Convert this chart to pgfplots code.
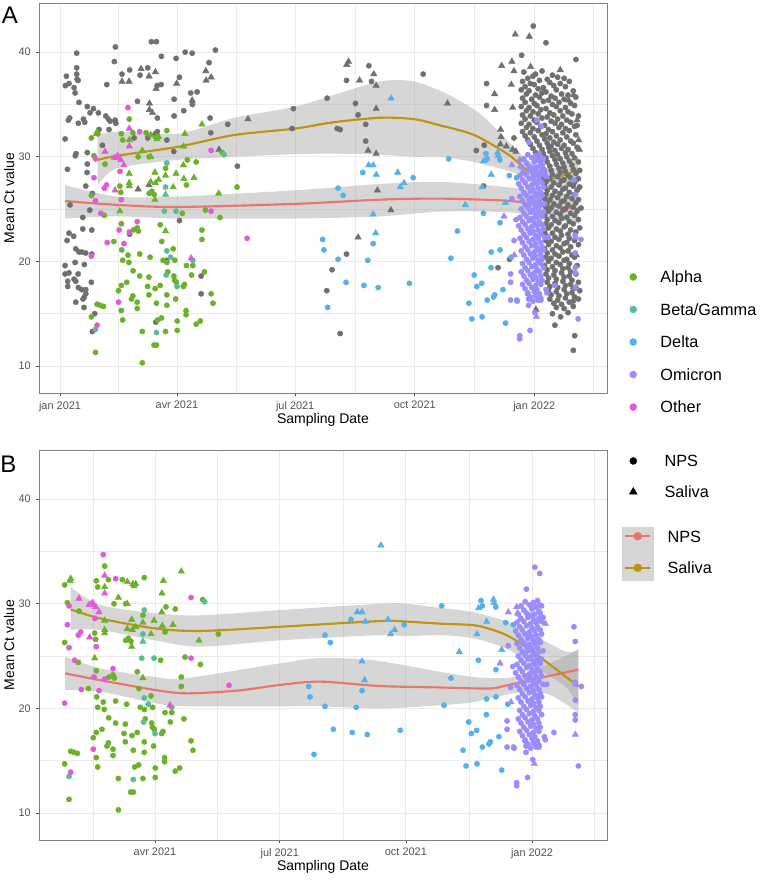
\documentclass[border=0pt]{standalone}
\usepackage{pgfplots}
\usepackage{pgfplotstable}
\usepgfplotslibrary{fillbetween}
\pgfplotsset{compat=1.18}
\usepackage{fontspec}
\setmainfont{Liberation Sans}

\definecolor{alphacol}{HTML}{6DB12A}
\definecolor{betacol}{HTML}{5CBC98}
\definecolor{deltacol}{HTML}{56B0EA}
\definecolor{omicol}{HTML}{9B8CFC}
\definecolor{othercol}{HTML}{E05CD4}
\definecolor{greycol}{HTML}{707070}
\definecolor{npscol}{HTML}{E8766C}
\definecolor{salcol}{HTML}{BE9412}
\definecolor{gridcol}{HTML}{EBEBEB}
\definecolor{bordercol}{HTML}{7F7F7F}
\definecolor{bandleg}{HTML}{D6D6D6}

% x = days since 1 Jan 2021, y = mean Ct
\pgfplotstableread{
x y
53.3 33.6
24.1 31.8
47.2 32.2
48.2 31.6
66.2 32.3
56.0 32.3
82.2 32.5
124.8 30.4
60.1 30.0
68.6 30.0
98.0 29.7
104.8 29.5
26.1 30.1
34.6 29.3
81.2 28.9
97.3 27.3
46.0 27.2
46.7 26.6
68.6 26.5
70.6 26.7
72.5 26.4
136.2 27.1
24.1 26.3
94.1 24.6
111.9 24.9
34.1 24.4
123.1 24.2
47.2 23.6
77.1 23.5
56.5 23.0
59.4 23.2
60.3 22.9
109.2 23.0
109.2 22.1
41.4 21.9
78.3 21.9
87.1 21.2
47.5 21.1
48.2 20.1
52.3 20.6
53.0 19.9
61.3 20.7
69.3 20.4
79.3 20.1
82.2 19.9
88.3 20.1
97.3 19.6
102.2 19.6
56.2 19.1
61.3 18.6
68.4 18.5
82.9 19.0
87.6 18.6
88.1 18.2
89.5 18.0
101.2 18.7
111.1 19.0
51.3 18.0
47.2 17.7
45.0 17.2
67.4 17.6
73.2 17.4
77.1 17.7
95.8 17.8
94.9 17.6
68.4 16.8
82.2 16.8
89.0 16.4
56.0 16.7
55.0 16.4
59.4 16.1
28.5 15.9
30.9 15.8
33.4 15.7
47.2 15.3
59.4 15.5
74.2 16.0
82.2 15.8
97.0 15.3
97.0 14.9
116.3 16.9
117.7 16.0
24.1 14.7
48.2 14.4
75.2 14.4
78.1 14.6
90.2 14.3
104.8 14.0
108.0 14.3
63.3 13.3
81.2 13.3
90.2 13.4
72.3 12.0
74.2 12.0
27.3 11.3
63.3 10.3
}\alphaN
\pgfplotstableread{
x y
28.5 32.4
28.0 32.2
69.8 32.1
73.9 31.9
75.9 31.9
74.7 31.7
109.2 33.1
96.1 32.2
95.1 31.0
53.3 31.6
63.3 30.6
69.8 30.0
53.3 28.4
73.0 28.5
75.9 27.8
81.2 28.2
89.3 28.4
94.9 29.2
95.3 27.9
103.1 28.0
69.8 27.6
73.5 27.5
87.1 27.1
53.3 27.5
53.3 27.2
73.0 25.9
122.1 26.5
46.0 24.8
81.2 22.9
}\alphaS
\pgfplotstableread{
x y
126.2 30.2
82.2 29.4
81.2 27.1
80.3 24.8
89.3 24.8
82.2 21.0
85.1 20.4
102.2 20.1
81.7 18.7
90.0 17.6
27.3 13.5
74.2 13.2
}\betaN
\pgfplotstableread{
x y
81.2 26.4
}\betaS
\pgfplotstableread{
x y
214.0 27.0
217.9 26.3
202.1 22.1
241.0 21.7
203.1 21.1
214.0 20.2
236.8 20.1
220.1 18.0
233.9 17.7
244.9 17.5
268.9 17.9
206.0 15.6
233.0 28.5
271.8 28.0
299.1 29.8
305.9 22.9
300.8 20.3
327.8 30.3
328.8 29.8
338.5 29.7
345.8 28.2
351.4 28.0
325.9 24.6
338.7 23.7
331.9 20.9
338.7 21.1
331.7 19.4
347.3 20.4
318.8 18.7
324.6 17.9
320.8 17.6
340.9 17.3
328.8 16.3
333.6 16.6
334.6 16.8
314.7 16.0
316.9 14.5
324.9 14.7
342.9 14.1
359.9 16.9
351.6 16.3
}\deltaN
\pgfplotstableread{
x y
254.8 35.6
237.6 29.2
241.0 29.2
243.4 28.3
259.9 28.5
264.8 27.5
261.9 27.1
241.0 24.5
242.9 22.7
312.0 25.4
326.1 29.6
336.8 30.4
337.3 30.1
331.9 28.3
324.9 27.1
342.9 25.6
370.8 26.4
}\deltaS
\pgfplotstableread{
x y
360 30.2
366 30.1
369 30.3
357 29.8
363 29.9
368 29.7
372 29.8
359 29.4
365 29.5
370 29.3
355 29.0
361 29.1
364 28.9
367 29.0
371 29.1
357 28.6
362 28.7
366 28.5
370 28.6
373 28.7
354 28.2
359 28.3
364 28.1
368 28.2
372 28.3
356 27.8
361 27.9
365 27.7
369 27.8
353 27.4
358 27.5
363 27.3
367 27.4
371 27.5
355 27.0
360 27.1
364 26.9
368 27.0
372 27.1
357 26.6
362 26.7
366 26.5
370 26.6
354 26.2
359 26.3
363 26.1
367 26.2
371 26.3
356 25.8
361 25.9
365 25.7
369 25.8
358 25.4
362 25.5
366 25.3
370 25.4
373 25.5
355 25.0
360 25.1
364 24.9
368 25.0
357 24.6
362 24.7
366 24.5
369 24.6
372 24.7
354 24.2
359 24.3
363 24.1
367 24.2
371 24.3
356 23.8
361 23.9
365 23.7
369 23.8
353 23.4
358 23.5
363 23.3
367 23.4
371 23.5
355 23.0
360 23.1
364 22.9
368 23.0
372 23.1
357 22.6
362 22.7
366 22.5
370 22.6
354 22.2
359 22.3
364 22.1
368 22.2
373 22.3
356 21.8
361 21.9
366 21.7
370 21.8
358 21.4
363 21.5
367 21.3
371 21.4
355 21.0
360 21.1
365 20.9
369 21.0
372 21.1
357 20.6
362 20.7
366 20.5
370 20.6
359 20.2
364 20.3
368 20.1
371 20.2
356 19.8
361 19.9
366 19.7
370 19.8
358 19.4
363 19.5
367 19.3
372 19.4
355 19.0
360 19.1
365 18.9
369 19.0
357 18.6
362 18.7
366 18.5
370 18.6
359 18.2
364 18.3
368 18.1
371 18.2
356 17.8
361 17.9
366 17.7
370 17.8
358 17.4
363 17.5
367 17.3
360 17.0
365 17.1
369 16.9
362 16.6
366 16.7
370 16.5
364 16.2
368 16.3
367.0 33.5
370.6 32.9
360.9 31.4
395.6 27.8
396.6 26.4
396.4 22.5
401.0 22.1
396.6 20.8
396.6 19.4
396.6 18.9
398.8 14.5
381.0 17.7
353.8 12.9
353.8 12.6
361.8 13.4
365.5 15.1
360.6 15.8
360.6 16.4
351.9 16.2
346.8 16.3
346.8 18.0
346.8 18.8
370.6 29.9
375.7 22.3
374.0 17.3
374.7 17.0
370.1 16.3
347.7 26.0
351.0 24.0
349.5 22.0
}\omiN
\pgfplotstableread{
x y
347.7 29.2
353.8 29.7
354.5 29.1
366.0 30.0
374.7 28.1
341.7 24.3
349.7 20.6
396.6 17.5
366.7 14.7
356.0 28.5
362.0 22.9
397.0 22.3
}\omiS
\pgfplotstableread{
x y
52.3 34.7
61.3 32.4
116.3 30.6
27.3 29.8
46.2 28.6
26.1 28.0
35.8 27.3
34.1 27.0
27.3 25.8
47.2 25.9
116.3 24.8
31.4 24.6
59.4 23.8
45.5 23.0
53.3 22.8
144.0 22.2
36.3 21.8
49.2 21.7
24.1 20.5
45.0 16.1
28.5 13.9
}\othN
\pgfplotstableread{
x y
53.3 32.7
53.3 31.0
34.6 30.5
41.9 29.9
44.3 30.1
45.5 29.9
46.7 29.7
49.2 29.2
42.4 26.8
100.9 20.3
}\othS
\pgfplotstableread{
x y
42.6 40.5
12.8 39.9
70.3 41.0
74.2 41.0
78.0 39.6
89.3 39.4
96.3 40.0
101.7 39.9
119.6 40.2
41.8 39.1
12.8 38.5
12.8 37.9
13.1 37.4
13.9 37.3
4.9 37.7
4.1 36.8
6.9 37.0
10.8 36.6
11.6 36.1
14.6 35.2
36.0 36.9
47.7 37.9
53.6 38.3
61.6 37.8
67.5 38.5
77.8 36.9
74.7 36.8
91.9 37.6
100.6 36.1
105.5 36.2
101.9 35.0
114.7 39.0
115.5 33.7
87.8 35.5
59.6 35.3
95.2 34.4
21.0 34.8
25.7 34.6
29.5 34.2
23.1 34.2
7.4 33.7
6.4 33.5
14.1 33.2
18.0 33.6
19.0 33.3
35.2 33.9
37.2 33.6
38.5 33.4
42.4 33.5
42.9 33.2
37.7 32.6
30.0 32.6
29.0 32.2
57.0 31.8
67.5 31.8
74.9 32.4
87.8 33.9
74.9 33.7
82.2 31.6
87.5 30.5
3.9 31.7
11.8 30.1
12.3 30.3
21.0 30.4
32.6 31.1
21.0 29.3
5.7 28.8
20.8 28.5
19.8 27.2
24.9 26.5
116.0 32.3
129.1 33.1
7.7 25.4
22.9 24.9
17.5 24.2
24.4 23.0
17.5 23.1
6.9 22.7
10.5 22.4
5.4 22.0
12.1 21.2
14.6 20.9
16.7 20.9
19.8 20.8
24.4 20.7
11.6 19.9
18.7 19.7
3.9 19.6
3.9 18.8
6.9 18.9
13.9 18.8
10.8 18.3
12.1 18.1
5.9 18.1
5.9 17.6
24.1 18.0
14.1 17.5
16.7 17.3
19.8 17.3
19.8 16.9
18.7 16.6
17.7 16.4
12.1 16.1
18.5 15.6
26.7 15.0
24.9 13.3
53.6 22.6
91.9 23.9
81.9 20.1
108.6 18.6
108.6 16.9
73.7 14.2
136.5 29.1
179.6 34.6
178.6 32.7
205.6 35.6
213.3 32.7
215.6 32.6
220.5 37.3
237.7 38.7
239.7 37.2
227.4 35.1
229.4 34.0
235.3 33.1
235.3 31.5
220.5 20.7
209.4 19.2
205.3 17.2
215.6 13.1
279.5 37.9
364.3 42.5
374.0 40.9
355.3 39.7
397.1 39.3
328.3 37.0
328.3 34.9
320.4 30.6
326.5 31.1
349.4 31.8
326.0 27.2
337.1 19.4
346.0 20.2
380.9 13.9
385.3 14.7
396.1 12.9
395.1 11.5
}\greyN
\pgfplotstableread{
x y
357 38.1
366 37.9
371 38.2
379 37.8
360 37.5
364 37.7
375 37.4
383 37.6
388 37.5
356 37.2
362 37.0
369 37.3
377 37.1
385 37.0
392 37.2
358 36.7
365 36.9
372 36.6
380 36.8
389 36.7
355 36.4
361 36.3
368 36.5
374 36.2
382 36.4
395 36.3
359 36.0
366 35.9
371 36.1
378 35.8
386 36.0
391 35.9
356 35.6
363 35.5
369 35.7
376 35.4
381 35.6
388 35.5
397 35.7
358 35.2
365 35.1
372 35.3
379 35.0
384 35.2
393 35.1
355 34.8
361 34.7
367 34.9
374 34.6
382 34.8
389 34.7
396 34.9
359 34.4
364 34.3
370 34.5
377 34.2
385 34.4
391 34.3
356 34.0
362 33.9
368 34.1
375 33.8
380 34.0
387 33.9
394 34.1
399 33.9
358 33.6
365 33.5
371 33.7
378 33.4
383 33.6
390 33.5
355 33.2
361 33.1
367 33.3
373 33.0
381 33.2
386 33.1
393 33.3
398 33.0
359 32.8
364 32.7
370 32.9
376 32.6
384 32.8
389 32.7
396 32.9
356 32.4
362 32.3
368 32.5
374 32.2
379 32.4
387 32.3
392 32.5
358 32.0
365 31.9
371 32.1
377 31.8
382 32.0
390 31.9
397 32.1
360 31.6
367 31.5
373 31.7
380 31.4
385 31.6
393 31.5
362 31.2
369 31.1
375 31.3
378 31.0
383 31.2
388 31.1
395 31.3
364 30.8
371 30.7
376 30.9
381 30.6
386 30.8
391 30.7
398 30.9
366 30.4
372 30.3
377 30.5
383 30.2
389 30.4
394 30.3
368 30.0
374 29.9
379 30.1
385 29.8
390 30.0
396 29.9
370 29.6
375 29.5
381 29.7
387 29.4
392 29.6
399 29.5
371 29.2
377 29.1
382 29.3
388 29.0
394 29.2
372 28.8
378 28.7
384 28.9
389 28.6
395 28.8
400 28.7
373 28.4
379 28.3
385 28.5
391 28.2
397 28.4
372 28.0
377 27.9
383 28.1
388 27.8
393 28.0
399 27.9
374 27.6
380 27.5
386 27.7
392 27.4
396 27.6
373 27.2
378 27.1
384 27.3
389 27.0
395 27.2
400 27.1
375 26.8
381 26.7
387 26.9
392 26.6
398 26.8
374 26.4
379 26.3
385 26.5
390 26.2
396 26.4
373 26.0
377 25.9
383 26.1
388 25.8
394 26.0
399 25.9
375 25.6
380 25.5
386 25.7
391 25.4
397 25.6
374 25.2
378 25.1
384 25.3
389 25.0
395 25.2
401 25.1
376 24.8
382 24.7
387 24.9
393 24.6
398 24.8
373 24.4
379 24.3
385 24.5
390 24.2
396 24.4
375 24.0
381 23.9
386 24.1
392 23.8
399 24.0
374 23.6
378 23.5
384 23.7
389 23.4
395 23.6
376 23.2
382 23.1
388 23.3
393 23.0
400 23.2
373 22.8
379 22.7
385 22.9
391 22.6
397 22.8
375 22.4
381 22.3
386 22.5
392 22.2
374 22.0
378 21.9
384 22.1
390 21.8
396 22.0
376 21.6
382 21.5
388 21.7
393 21.4
399 21.6
373 21.2
379 21.1
385 21.3
391 21.0
375 20.8
381 20.7
387 20.9
394 20.6
374 20.4
378 20.3
384 20.5
390 20.2
396 20.4
376 20.0
382 19.9
388 20.1
392 19.8
373 19.6
379 19.5
385 19.7
391 19.4
398 19.6
375 19.2
381 19.1
387 19.3
393 19.0
374 18.8
380 18.7
386 18.9
392 18.6
397 18.8
376 18.4
382 18.3
388 18.5
394 18.2
375 18.0
381 17.9
387 18.1
393 17.8
399 18.0
377 17.6
383 17.5
389 17.7
395 17.4
376 17.2
382 17.1
388 17.3
394 17.0
400 17.2
378 16.8
384 16.7
390 16.9
396 16.6
377 16.4
383 16.3
389 16.5
395 16.2
399 16.4
380 16.0
386 15.9
392 16.1
382 15.6
388 15.5
395 15.7
379 15.0
391 15.1
}\greyCore
\pgfplotstableread{
x y
47.7 37.2
53.1 37.2
62.4 38.4
68.5 37.7
73.4 38.1
73.9 36.5
89.8 37.0
68.8 35.1
68.8 34.5
71.1 34.2
101.7 35.4
112.2 38.2
116.3 37.6
112.4 37.3
72.4 32.1
122.4 30.7
68.5 27.3
60.1 26.9
144.7 33.6
220.7 38.8
222.0 39.1
230.5 37.3
241.5 37.9
243.3 36.8
243.3 34.6
237.1 30.6
243.3 30.3
244.3 26.8
254.6 24.9
229.4 22.3
298.2 35.1
350.4 41.7
361.2 41.5
339.9 38.7
347.8 39.1
349.4 38.2
362.2 38.6
334.5 36.0
347.3 36.9
348.4 34.7
334.5 34.5
339.1 32.6
339.4 31.9
338.9 31.2
343.5 31.0
350.9 30.5
348.4 30.7
366.3 15.4
385.0 38.3
391.5 35.4
395.3 35.9
397.9 33.5
399.2 31.6
399.7 30.7
397.4 20.6
397.9 17.4
}\greyS

\pgfplotsset{
  dot/.style={only marks, mark=*, mark size=2.0pt, color=#1, mark options={line width=0.3pt}, forget plot},
  tri/.style={only marks, mark=triangle*, mark size=2.8pt, color=#1, mark options={line width=0.3pt}, forget plot},
  panel/.style={
    scale only axis, width=426pt, height=292.5pt,
    ymin=7.42, ymax=44.7,
    ytick={10,20,30,40}, yticklabels={10,20,30,40},
    minor ytick={15,25,35},
    minor xtick={45,135.5,227,319,410.5},
    grid=both,
    major grid style={draw=gridcol, line width=0.7pt},
    minor grid style={draw=gridcol, line width=0.35pt},
    axis line style={draw=bordercol, line width=0.6pt},
    tick align=outside, tick pos=left,
    major tick length=2.6pt, minor tick length=0pt,
    tick style={draw=black!70, line width=0.5pt},
    tick label style={font=\fontsize{8.2}{9.8}\selectfont, text=black!68},
    /pgf/number format/assume math mode=true,
    label style={font=\fontsize{10.5}{12.6}\selectfont},
    xlabel={Sampling Date}, ylabel={Mean Ct value},
    xlabel style={at={(axis description cs:0.5,-0.068)}, anchor=center},
    ylabel style={at={(axis description cs:-0.0528,0.5)}, anchor=center},
    legend cell align=left,
  },
  band/.style={draw=none, fill=black!40, fill opacity=0.4, forget plot},
}

\begin{document}
\begin{tikzpicture}

% ---------------- panel A ----------------
\begin{axis}[panel, at={(29.25pt,375pt)}, anchor=south west,
  xmin=-16.2, xmax=421,
  xtick={0,90,181,273,365},
  xticklabels={jan 2021, avr 2021, jul 2021, oct 2021, jan 2022},
  legend style={at={(1.0396,0.3126)}, anchor=north west, draw=none, fill=none,
    inner sep=0pt, outer sep=0pt, row sep=15.6pt, column sep=17.65pt,
    font=\fontsize{12.2}{14}\selectfont,
    nodes={inner sep=0pt, text height=8.8pt, text depth=0pt}},
]
\addplot[dot=greycol] table {\greyN};
\addplot[dot=greycol] table {\greyCore};
\addplot[tri=greycol] table {\greyS};
\addplot[dot=alphacol] table {\alphaN};
\addplot[tri=alphacol] table {\alphaS};
\addplot[dot=betacol] table {\betaN};
\addplot[tri=betacol] table {\betaS};
\addplot[dot=deltacol] table {\deltaN};
\addplot[tri=deltacol] table {\deltaS};
\addplot[dot=omicol] table {\omiN};
\addplot[tri=omicol] table {\omiS};
\addplot[dot=othercol] table {\othN};
\addplot[tri=othercol] table {\othS};

% smoothed fits with confidence bands
\addplot[name path=salUpA, draw=none, smooth, forget plot] coordinates {
(29,32.1) (44,32.4) (90.6,32.2) (133.5,33.7) (181.2,34.8) (210.5,35.9) (246.4,37.2) (272.1,37.2) (297.8,36.0) (323.4,34.1) (344,31.6) (356.8,30.0) (369.6,29.0) (382.4,29.0) (399.1,30.0)};
\addplot[name path=salLoA, draw=none, smooth, forget plot] coordinates {
(29,27.3) (44,28.9) (90.6,29.7) (133.5,30.0) (181.2,30.25) (210.5,30.3) (246.4,30.2) (272.1,30.0) (292.6,30.0) (318.3,29.5) (344,28.7) (356.8,28.1) (369.6,27.3) (399.1,27.1)};
\addplot[band] fill between[of=salUpA and salLoA];
\addplot[name path=npsUpA, draw=none, smooth, forget plot] coordinates {
(3.9,27.3) (43.7,26.2) (90.6,26.2) (181.2,26.8) (246.4,27.4) (292.6,27.6) (344,27.1) (369.6,26.65) (399.1,26.5)};
\addplot[name path=npsLoA, draw=none, smooth, forget plot] coordinates {
(3.9,24.1) (43.7,24.3) (90.6,24.1) (181.2,24.1) (246.4,24.3) (292.6,24.75) (344,24.7) (369.6,24.3) (399.1,23.6)};
\addplot[band] fill between[of=npsUpA and npsLoA];
\addplot[smooth, line width=1.6pt, color=npscol, forget plot] coordinates {
(3.9,25.77) (43.7,25.4) (90.6,25.2) (181.2,25.5) (246.4,25.9) (292.6,26.0) (344,25.8) (369.6,25.4) (399.1,25.0)};
\addplot[smooth, line width=1.6pt, color=salcol, forget plot] coordinates {
(29,29.7) (44,30.1) (90.6,30.95) (133.5,32.07) (181.2,32.7) (210.5,33.3) (246.4,33.73) (272.1,33.6) (292.6,33.0) (318.3,32.1) (344,30.3) (356.8,29.0) (369.6,27.9) (382.4,28.0) (399.1,28.8)};

\addlegendimage{legend image code/.code={\fill[alphacol] (0pt,0pt) circle (2.6pt);}}
\addlegendentry{Alpha}
\addlegendimage{legend image code/.code={\fill[betacol] (0pt,0pt) circle (2.6pt);}}
\addlegendentry{Beta/Gamma}
\addlegendimage{legend image code/.code={\fill[deltacol] (0pt,0pt) circle (2.6pt);}}
\addlegendentry{Delta}
\addlegendimage{legend image code/.code={\fill[omicol] (0pt,0pt) circle (2.6pt);}}
\addlegendentry{Omicron}
\addlegendimage{legend image code/.code={\fill[othercol] (0pt,0pt) circle (2.6pt);}}
\addlegendentry{Other}
\end{axis}

% ---------------- panel B ----------------
\begin{axis}[panel, at={(29.25pt,39.75pt)}, anchor=south west,
  xmin=5.4, xmax=419.7,
  xtick={90,181,273,365},
  xticklabels={avr 2021, jul 2021, oct 2021, jan 2022},
  legend style={at={(1.0391,0.9869)}, anchor=north west, draw=none, fill=none,
    inner sep=0pt, outer sep=0pt, row sep=14.45pt, column sep=20.4pt,
    font=\fontsize{12.2}{14}\selectfont,
    nodes={inner sep=0pt, text height=8.8pt, text depth=0pt}},
]
\addplot[dot=alphacol] table {\alphaN};
\addplot[tri=alphacol] table {\alphaS};
\addplot[dot=betacol] table {\betaN};
\addplot[tri=betacol] table {\betaS};
\addplot[dot=deltacol] table {\deltaN};
\addplot[tri=deltacol] table {\deltaS};
\addplot[dot=omicol] table {\omiN};
\addplot[tri=omicol] table {\omiS};
\addplot[dot=othercol] table {\othN};
\addplot[tri=othercol] table {\othS};

\addplot[name path=salUpB, draw=none, smooth, forget plot] coordinates {
(28.5,31.6) (50,29.9) (90,29.1) (123,28.9) (181,29.4) (254,30.0) (273,30.0) (298,29.6) (322,29.2) (346.5,28.3) (370.8,26.7) (390,25.4) (398.8,25.6)};
\addplot[name path=salLoB, draw=none, smooth, forget plot] coordinates {
(28.5,27.5) (50,27.5) (90,26.5) (123,25.9) (181,26.5) (254,27.0) (273,26.9) (298,27.0) (322,26.7) (346.5,25.7) (370.8,23.7) (390,22.0) (398.8,20.2)};
\addplot[band] fill between[of=salUpB and salLoB];
\addplot[name path=npsUpB, draw=none, smooth, forget plot] coordinates {
(24.4,24.95) (50,23.83) (90,23.0) (113,22.9) (181,24.3) (210,24.8) (249,24.6) (298,23.5) (322,23.0) (346,22.9) (360,23.3) (378,24.3) (398.8,25.6)};
\addplot[name path=npsLoB, draw=none, smooth, forget plot] coordinates {
(24.4,21.76) (50,21.6) (90,20.5) (113,20.2) (181,20.2) (210,20.2) (254,20.0) (298,20.3) (322,20.6) (346,21.3) (360,21.6) (378,21.3) (398.8,19.6)};
\addplot[band] fill between[of=npsUpB and npsLoB];
\addplot[smooth, line width=1.6pt, color=npscol, forget plot] coordinates {
(24.4,23.35) (50,22.7) (90,21.76) (113,21.44) (150,21.7) (181,22.24) (210,22.56) (254,22.14) (298,22.0) (334,21.9) (346.5,22.2) (370.8,22.9) (398.8,23.7)};
\addplot[smooth, line width=1.6pt, color=salcol, forget plot] coordinates {
(28.5,29.47) (50,28.6) (90,27.65) (123,27.4) (181,27.8) (254,28.35) (273,28.3) (298,28.1) (322,27.96) (334,27.6) (346.5,27.0) (358.7,26.05) (370.8,24.9) (383,23.7) (398.8,22.1)};

\addlegendimage{legend image code/.code={\fill[black] (0pt,0pt) circle (2.6pt);}}
\addlegendentry{NPS}
\addlegendimage{legend image code/.code={\fill[black] (0pt,3.3pt) -- (-2.86pt,-1.65pt) -- (2.86pt,-1.65pt) -- cycle;}}
\addlegendentry{Saliva}
\end{axis}

% second legend of panel B (smoothed fits)
\begin{axis}[scale only axis, width=426pt, height=292.5pt, at={(29.25pt,39.75pt)}, anchor=south west,
  hide axis, xmin=0, xmax=1, ymin=0, ymax=1,
  legend cell align=left,
  legend style={at={(1.02641,0.80256)}, anchor=north west, draw=none, fill=none,
    inner sep=0pt, outer sep=0pt, row sep=0pt, column sep=10.5pt,
    font=\fontsize{12.2}{14}\selectfont,
    nodes={inner sep=0pt, text height=8.8pt, text depth=0pt}},
]
\addplot[draw=none, forget plot] coordinates {(0,0) (1,1)};
\addlegendimage{legend image code/.code={
  \fill[bandleg] (-11.625pt,-11.625pt) rectangle (11.625pt,6.75pt);
  \draw[npscol, line width=1.6pt] (-9.4pt,0pt) -- (9.4pt,0pt);
  \fill[npscol] (0pt,0pt) circle (3pt);}}
\addlegendentry{NPS}
\addlegendimage{legend image code/.code={
  \fill[bandleg] (-11.625pt,-9pt) rectangle (11.625pt,11.625pt);
  \draw[salcol, line width=1.6pt] (-9.4pt,0pt) -- (9.4pt,0pt);
  \fill[salcol] (0pt,0pt) circle (3pt);}}
\addlegendentry{Saliva}
\end{axis}

\node[font=\fontsize{18}{20}\selectfont, anchor=base west, inner sep=0pt] at (1.2pt,651.75pt) {A};
\node[font=\fontsize{18}{20}\selectfont, anchor=base west, inner sep=0pt] at (0pt,315pt) {B};
\pgfresetboundingbox
\useasboundingbox (0,0) rectangle (570pt,669.75pt);
\end{tikzpicture}
\end{document}
